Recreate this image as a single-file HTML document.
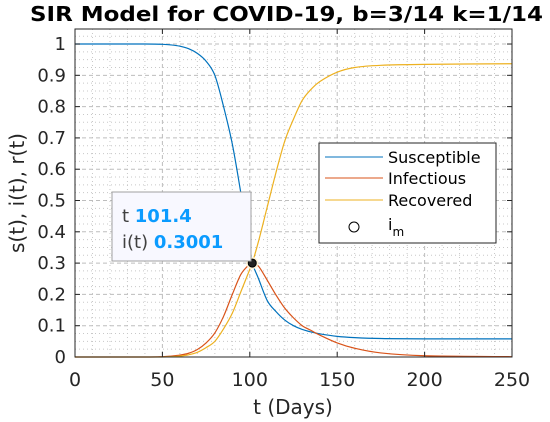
<!DOCTYPE html>
<html><head><meta charset="utf-8"><style>body{margin:0;background:#fff}svg{display:block;font-family:"DejaVu Sans","Liberation Sans",sans-serif}</style></head>
<body>
<svg id="c" width="550" height="422" viewBox="0 0 550 422">
<rect x="0" y="0" width="550" height="422" fill="#fff"/>
<g id="grid"></g>
<g id="series"></g>
<rect x="75" y="29" width="437" height="328" fill="none" stroke="#262626" stroke-width="1"/>
<g id="ticks"></g>
<text x="30" y="21" font-size="20" font-weight="bold" fill="#000" textLength="513" lengthAdjust="spacingAndGlyphs">SIR Model for COVID-19, b=3/14 k=1/14</text>
<text x="293" y="414" text-anchor="middle" font-size="20" fill="#262626">t (Days)</text>
<text transform="translate(24,193) rotate(-90)" text-anchor="middle" font-size="20" fill="#262626">s(t), i(t), r(t)</text>
<g>
<rect x="319" y="143" width="177" height="100" fill="#fff" stroke="#262626"/>
<line x1="325" y1="157" x2="383" y2="157" stroke="#0072BD"/>
<text x="388" y="163" font-size="16" fill="#000">Susceptible</text>
<line x1="325" y1="178" x2="383" y2="178" stroke="#D95319"/>
<text x="388" y="184" font-size="16" fill="#000">Infectious</text>
<line x1="325" y1="200" x2="383" y2="200" stroke="#EDB120"/>
<text x="388" y="206" font-size="16" fill="#000">Recovered</text>
<circle cx="354" cy="227" r="5" fill="#fff" stroke="#000"/>
<text x="388" y="230" font-size="16" fill="#000">i<tspan font-size="12" dy="6">m</tspan></text>
</g>
<g id="tip">
<rect x="112" y="192" width="139" height="69" fill="#f8f8ff" stroke="#a0a0a0"/>
<text x="122" y="222" font-size="18" fill="#404040">t <tspan font-weight="bold" fill="#0a9bff">101.4</tspan></text>
<text x="122" y="248" font-size="18" fill="#404040">i(t) <tspan font-weight="bold" fill="#0a9bff">0.3001</tspan></text>
</g>
</svg>
<script>
const tVals=[0,40,50,55,60,65,70,75,80,85,90,95,100,101.4,105,110,115,120,125,130,135,140,150,160,175,200,250];
const sVals=[1,1,0.999,0.997,0.993,0.985,0.97,0.945,0.90,0.80,0.68,0.52,0.35,0.30,0.25,0.18,0.145,0.118,0.10,0.088,0.08,0.074,0.066,0.062,0.059,0.058,0.058];
const iVals=[0,0,0.001,0.003,0.006,0.012,0.024,0.045,0.077,0.13,0.20,0.265,0.297,0.30,0.29,0.245,0.198,0.156,0.125,0.10,0.085,0.070,0.045,0.028,0.013,0.004,0.001];
const rVals=[0,0,0,0.001,0.003,0.007,0.015,0.03,0.05,0.09,0.14,0.21,0.28,0.30,0.37,0.48,0.59,0.69,0.76,0.82,0.855,0.88,0.91,0.925,0.932,0.935,0.937];
const peakT=[101.4];
const peakI=[0.3001];
const xTicks=[0,50,100,150,200,250];
const yTicks=[0,0.1,0.2,0.3,0.4,0.5,0.6,0.7,0.8,0.9,1];
const X0=75,X1=512,Y0=357,Y1=29,XMAX=250,YMAX=1.048;
const xs=v=>X0+(v/XMAX)*(X1-X0);
const ys=v=>Y0-(v/YMAX)*(Y0-Y1);
const NS='http://www.w3.org/2000/svg';
function mk(tag,attrs,parent){const e=document.createElementNS(NS,tag);for(const k in attrs)e.setAttribute(k,attrs[k]);parent.appendChild(e);return e;}
const grid=document.getElementById('grid'),ticks=document.getElementById('ticks'),series=document.getElementById('series');
for(let v=10;v<XMAX;v+=10){if(v%50===0)continue;const l=mk('line',{x1:xs(v),x2:xs(v),y1:Y1,y2:Y0,stroke:'#c8c8c8','stroke-dasharray':'1,3','stroke-width':1},grid);

}
for(let v=0.025;v<YMAX;v+=0.025){if(Math.abs(v*10-Math.round(v*10))<0.001)continue;const l=mk('line',{x1:X0,x2:X1,y1:ys(v),y2:ys(v),stroke:'#c8c8c8','stroke-dasharray':'1,3','stroke-width':1},grid);

}
xTicks.forEach(v=>{const l=mk('line',{x1:xs(v),x2:xs(v),y1:Y1,y2:Y0,stroke:'#bdbdbd','stroke-dasharray':'4,3'},grid);


const t=mk('text',{x:xs(v),y:386,'text-anchor':'middle','font-size':19,fill:'#262626'},ticks);t.textContent=v;


mk('line',{x1:xs(v),x2:xs(v),y1:Y0,y2:Y0-5,stroke:'#262626'},ticks);
mk('line',{x1:xs(v),x2:xs(v),y1:Y1,y2:Y1+5,stroke:'#262626'},ticks);});
yTicks.forEach(v=>{const l=mk('line',{x1:X0,x2:X1,y1:ys(v),y2:ys(v),stroke:'#bdbdbd','stroke-dasharray':'4,3'},grid);


const t=mk('text',{x:66,y:ys(v)+6,'text-anchor':'end','font-size':18,fill:'#262626'},ticks);t.textContent=v;


mk('line',{x1:X0,x2:X0+5,y1:ys(v),y2:ys(v),stroke:'#262626'},ticks);
mk('line',{x1:X1,x2:X1-5,y1:ys(v),y2:ys(v),stroke:'#262626'},ticks);});
function line(vals,color,name){
const P=tVals.map((t,i)=>[xs(t),ys(vals[i])]);
let d='M'+P[0][0]+','+P[0][1];
for(let i=0;i<P.length-1;i++){const p0=P[Math.max(0,i-1)],p1=P[i],p2=P[i+1],p3=P[Math.min(P.length-1,i+2)];
const c1=[p1[0]+(p2[0]-p0[0])/6,p1[1]+(p2[1]-p0[1])/6],c2=[p2[0]-(p3[0]-p1[0])/6,p2[1]-(p3[1]-p1[1])/6];
d+=' C'+c1+' '+c2+' '+p2;}
const p=mk('path',{d:d,fill:'none',stroke:color,'stroke-width':1.2},series);

}
line(sVals,'#0072BD','susceptible-line');
line(iVals,'#D95319','infectious-line');
line(rVals,'#EDB120','recovered-line');
const h=mk('circle',{cx:xs(peakT[0]),cy:ys(peakI[0]),r:6,fill:'#fff5d8',stroke:'none'},series);


const m=mk('circle',{cx:xs(peakT[0]),cy:ys(peakI[0]),r:4,fill:'#222',stroke:'#000'},series);


</script>
</body></html>
